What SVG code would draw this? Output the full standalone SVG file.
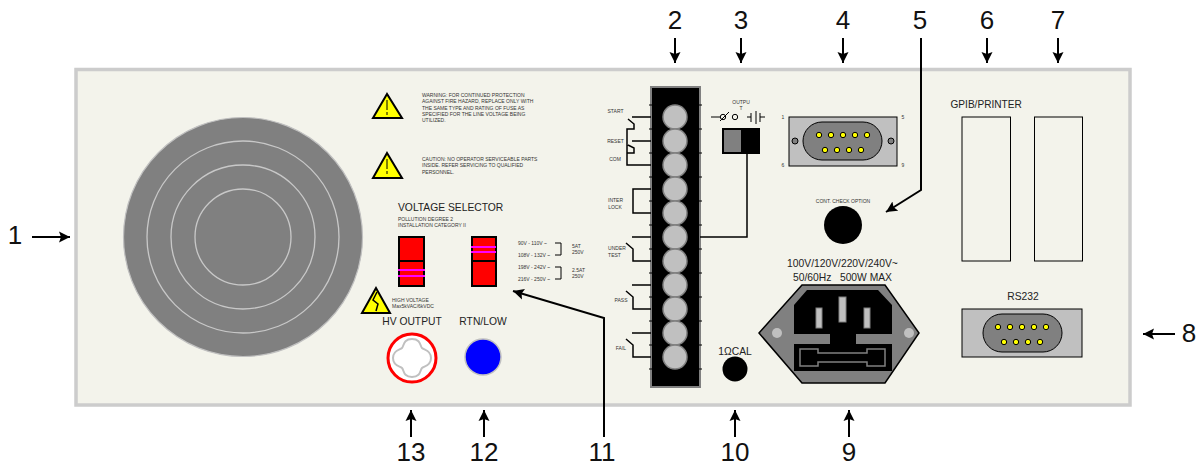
<svg xmlns="http://www.w3.org/2000/svg" width="1201" height="466" viewBox="0 0 1201 466">
<style>
text{font-family:"Liberation Sans",Arial,sans-serif;fill:#222}
.n{font-size:26px;fill:#111;text-anchor:middle}
.m{font-size:10.3px;text-anchor:middle}
.s{font-size:5px;fill:#333}
.c{text-anchor:middle}
.w{fill:none;stroke:#000;stroke-width:1.5}
.a{fill:none;stroke:#000;stroke-width:2}
.tb{fill:#c0c0c0;stroke:#808080;stroke-width:1.5}
.pin{fill:#ff0;stroke:#000;stroke-width:1}
.tri{fill:#ff0;stroke:#000;stroke-width:2;stroke-linejoin:miter}
.sw{fill:#f00;stroke:#000;stroke-width:2}
.mg{stroke:#f0f;stroke-width:2}
.rg{fill:none;stroke:#c8c8c8;stroke-width:1.3}
</style>
<defs>
<marker id="ah" markerWidth="12" markerHeight="12" refX="11" refY="6" orient="auto" markerUnits="userSpaceOnUse"><path d="M0 0.5L11 6L0 11.5L2 6Z" fill="#000"/></marker>
</defs>
<rect id="panel" x="76" y="69.5" width="1054" height="335.5" fill="#f3f3eb" stroke="#cccccc" stroke-width="3.5"/>
<g id="fan">
<circle cx="243" cy="237" r="119.5" fill="#808080" stroke="#c0c0c0" stroke-width="1.2"/>
<circle class="rg" cx="243" cy="237" r="96"/><circle class="rg" cx="243" cy="237" r="72"/><circle class="rg" cx="243" cy="237" r="48"/>
</g>
<g id="warning1"><path class="tri" d="M387 94L373 118H402Z"/><path d="M387 100V110M387 112V115" stroke="#000" stroke-width="1"/>
<text class="s"><tspan x="422" y="97">WARNING: FOR CONTINUED PROTECTION</tspan><tspan x="422" y="103">AGAINST FIRE HAZARD, REPLACE ONLY WITH</tspan><tspan x="422" y="110">THE SAME TYPE AND RATING OF FUSE AS</tspan><tspan x="422" y="116">SPECIFIED FOR THE LINE VOLTAGE BEING</tspan><tspan x="422" y="122">UTILIZED.</tspan></text></g>
<g id="warning2"><path class="tri" d="M387 153L373 178H402Z"/><path d="M387 159V169M387 171V174" stroke="#000" stroke-width="1"/>
<text class="s"><tspan x="422" y="161">CAUTION: NO OPERATOR SERVICEABLE PARTS</tspan><tspan x="422" y="167">INSIDE.  REFER SERVICING TO QUALIFIED</tspan><tspan x="422" y="174">PERSONNEL.</tspan></text></g>
<g id="voltage-selector">
<text x="398" y="211" font-size="10.3">VOLTAGE SELECTOR</text>
<text class="s"><tspan x="398" y="221">POLLUTION DEGREE 2</tspan><tspan x="398" y="227">INSTALLATION CATEGORY II</tspan></text>
<rect class="sw" x="399" y="237" width="25" height="24"/><rect class="sw" x="399" y="261" width="25" height="25"/>
<path class="mg" d="M398 270H425M398 276H425"/>
<rect class="sw" x="472" y="237" width="24" height="24"/><rect class="sw" x="472" y="261" width="24" height="25"/>
<path class="mg" d="M471 247H496M471 252H496"/>
<text class="s"><tspan x="518" y="245">90V - 110V ~</tspan><tspan x="518" y="257">108V - 132V ~</tspan><tspan x="518" y="269">198V - 242V ~</tspan><tspan x="518" y="281">216V - 250V ~</tspan><tspan x="572" y="248">5AT</tspan><tspan x="572" y="254">250V</tspan><tspan x="572" y="272">2.5AT</tspan><tspan x="572" y="278">250V</tspan></text>
<path d="M555 243H561V255H555M555 267H561V279H555" fill="none" stroke="#000" stroke-width="1"/>
</g>
<g id="hv-warning"><path class="tri" d="M376 288L362 313H390Z"/><path d="M377 292L373 300L378 304L376 311" fill="none" stroke="#000" stroke-width="1.5"/>
<text class="s"><tspan x="392" y="302">HIGH VOLTAGE</tspan><tspan x="392" y="308">Max5kVAC/6kVDC</tspan></text></g>
<g id="hv-output"><text class="m" x="412" y="325">HV OUTPUT</text><circle cx="412" cy="358" r="24" fill="#fff" stroke="#f00" stroke-width="3"/>
<path d="M412 339C421 339 420 346 422 348C424 350 431 350 431 358C431 366 424 366 422 368C420 370 421 377 412 377C403 377 404 370 402 368C400 366 393 366 393 358C393 350 400 350 402 348C404 346 403 339 412 339Z" fill="#fff" stroke="#c0c0c0" stroke-width="2"/></g>
<g id="rtn-low"><text class="m" x="483" y="325">RTN/LOW</text><circle cx="483" cy="357" r="18" fill="#00f" stroke="#c0c0c0" stroke-width="1.5"/></g>
<g id="terminal-block">
<rect x="651" y="87" width="49" height="300" fill="#000" stroke="#808080" stroke-width="2"/>
<path d="M649 105H702M649 129H702M649 153H702M649 177H702M649 201H702M649 225H702M649 249H702M649 273H702M649 297H702M649 321H702M649 345H702M649 369H702" stroke="#000" stroke-width="1"/>
<circle class="tb" cx="675" cy="117" r="12"/><circle class="tb" cx="675" cy="141" r="12"/><circle class="tb" cx="675" cy="165" r="12"/><circle class="tb" cx="675" cy="189" r="12"/><circle class="tb" cx="675" cy="213" r="12"/><circle class="tb" cx="675" cy="237" r="12"/><circle class="tb" cx="675" cy="261" r="12"/><circle class="tb" cx="675" cy="285" r="12"/><circle class="tb" cx="675" cy="309" r="12"/><circle class="tb" cx="675" cy="333" r="12"/><circle class="tb" cx="675" cy="357" r="12"/>
<text class="s c"><tspan x="615.5" y="113">START</tspan><tspan x="615.5" y="143">RESET</tspan><tspan x="615" y="161">COM</tspan><tspan x="615.5" y="202">INTER</tspan><tspan x="615" y="209">LOCK</tspan><tspan x="617" y="250">UNDER</tspan><tspan x="614.5" y="257">TEST</tspan><tspan x="621" y="302">PASS</tspan><tspan x="621" y="350">FAIL</tspan></text>
</g>
<g id="output-switch">
<text class="s c"><tspan x="741" y="104">OUTPU</tspan><tspan x="741" y="110">T</tspan></text>
<path d="M711 117H720M720 121L729 112" fill="none" stroke="#000" stroke-width="1"/>
<circle cx="723" cy="117" r="2.7" fill="none" stroke="#000"/><circle cx="735" cy="117" r="2.7" fill="none" stroke="#000"/>
<path d="M747 117H751M751 113V122M756 111V124M760 113V122M760 117H765" fill="none" stroke="#000" stroke-width="1"/>
<rect x="722" y="128" width="38" height="26" fill="#000"/><rect x="724" y="130" width="17" height="22" fill="#808080"/>
</g>
<g id="db9-top">
<rect x="789" y="117" width="108" height="49" fill="#c0c0c0" stroke="#000"/>
<rect x="803" y="122" width="79" height="38" rx="19" fill="#808080" stroke="#000"/>
<circle cx="795" cy="141" r="3" fill="#808080" stroke="#000"/><circle cx="891" cy="141" r="3" fill="#808080" stroke="#000"/>
<circle class="pin" cx="819" cy="135" r="2.7"/><circle class="pin" cx="831" cy="135" r="2.7"/><circle class="pin" cx="843" cy="135" r="2.7"/><circle class="pin" cx="855" cy="135" r="2.7"/><circle class="pin" cx="867" cy="135" r="2.7"/>
<circle class="pin" cx="825" cy="150" r="2.7"/><circle class="pin" cx="837" cy="150" r="2.7"/><circle class="pin" cx="849" cy="150" r="2.7"/><circle class="pin" cx="861" cy="150" r="2.7"/>
<text class="s c"><tspan x="783" y="119">1</tspan><tspan x="903" y="119">5</tspan><tspan x="783" y="167">6</tspan><tspan x="903" y="167">9</tspan></text>
</g>
<g id="cont-check"><text class="s c" x="843" y="203">CONT. CHECK OPTION</text><circle cx="843" cy="225" r="19" fill="#000"/></g>
<g id="mains">
<text class="m" xml:space="preserve"><tspan x="842.5" y="267">100V/120V/220V/240V~</tspan><tspan x="842.5" y="281">50/60Hz   500W MAX</tspan></text>
<path d="M759 333L802 285H885L919 333L885 383H802Z" fill="#808080" stroke="#000" stroke-width="1.5"/>
<path d="M794 305L807 290H878L892 305V334H856V344H892V371H794V344H830V334H794Z" fill="#000"/>
<path d="M800 349H818V353H867V349H885V366H867V362H818V366H800Z" fill="none" stroke="#808080" stroke-width="1.5"/>
<rect x="816" y="308" width="6" height="20" fill="#c0c0c0" stroke="#808080"/><rect x="839" y="297" width="7" height="25" fill="#c0c0c0" stroke="#808080"/><rect x="864" y="308" width="6" height="20" fill="#c0c0c0" stroke="#808080"/>
<circle cx="777" cy="333" r="5" fill="#c0c0c0"/><circle cx="909" cy="333" r="5" fill="#c0c0c0"/>
</g>
<g id="cal"><text class="m" x="735" y="355">1ΩCAL</text><circle cx="735" cy="369" r="12.5" fill="#000"/></g>
<g id="gpib"><text x="950.5" y="108" font-size="10.1">GPIB/PRINTER</text><rect x="962" y="117" width="48.5" height="144" fill="none" stroke="#000" stroke-width="1"/><rect x="1034.5" y="117" width="48" height="144" fill="none" stroke="#000" stroke-width="1"/></g>
<g id="rs232">
<text class="m" x="1023" y="300">RS232</text>
<rect x="962" y="309" width="120" height="48" fill="#c0c0c0" stroke="#000"/>
<rect x="983" y="314" width="79" height="38" rx="19" fill="#808080" stroke="#000"/>
<circle class="pin" cx="998" cy="327" r="2.7"/><circle class="pin" cx="1010" cy="327" r="2.7"/><circle class="pin" cx="1022" cy="327" r="2.7"/><circle class="pin" cx="1034" cy="327" r="2.7"/><circle class="pin" cx="1046" cy="327" r="2.7"/>
<circle class="pin" cx="1004" cy="342" r="2.7"/><circle class="pin" cx="1016" cy="342" r="2.7"/><circle class="pin" cx="1028" cy="342" r="2.7"/><circle class="pin" cx="1040" cy="342" r="2.7"/>
</g>
<g id="connectors">
<path class="w" d="M632 117H651M628 119L634 124V129H627V165H651M632 141H651M628 145L634 148V153H627M651 189H633V213H651M632 237H651M626 243L633 249V261H651M632 285H651M626 291L633 297V309H651M632 333H651M626 339L633 345V357H651M700 237H747V154"/>
<path class="a" marker-end="url(#ah)" d="M32 237H70"/>
<path class="a" marker-end="url(#ah)" d="M675 38V63"/>
<path class="a" marker-end="url(#ah)" d="M741 38V63"/>
<path class="a" marker-end="url(#ah)" d="M843 38V63"/>
<path class="a" marker-end="url(#ah)" d="M921 38V190L886 212"/>
<path class="a" marker-end="url(#ah)" d="M987 38V63"/>
<path class="a" marker-end="url(#ah)" d="M1058 38V63"/>
<path class="a" marker-end="url(#ah)" d="M1175 334H1143"/>
<path class="a" marker-end="url(#ah)" d="M849 437V410"/>
<path class="a" marker-end="url(#ah)" d="M735 437V410"/>
<path class="a" marker-end="url(#ah)" d="M604 437V318L513 291"/>
<path class="a" marker-end="url(#ah)" d="M484 437V410"/>
<path class="a" marker-end="url(#ah)" d="M411 437V410"/>
</g>
<g id="labels">
<text class="n" x="15" y="244">1</text><text class="n" x="675" y="29">2</text><text class="n" x="741" y="29">3</text><text class="n" x="843" y="29">4</text><text class="n" x="920" y="29">5</text><text class="n" x="987" y="29">6</text><text class="n" x="1058" y="29">7</text><text class="n" x="1189" y="342">8</text><text class="n" x="849" y="461">9</text><text class="n" x="735" y="461">10</text><text class="n" x="602" y="461">11</text><text class="n" x="484" y="461">12</text><text class="n" x="411" y="461">13</text>
</g>
</svg>
